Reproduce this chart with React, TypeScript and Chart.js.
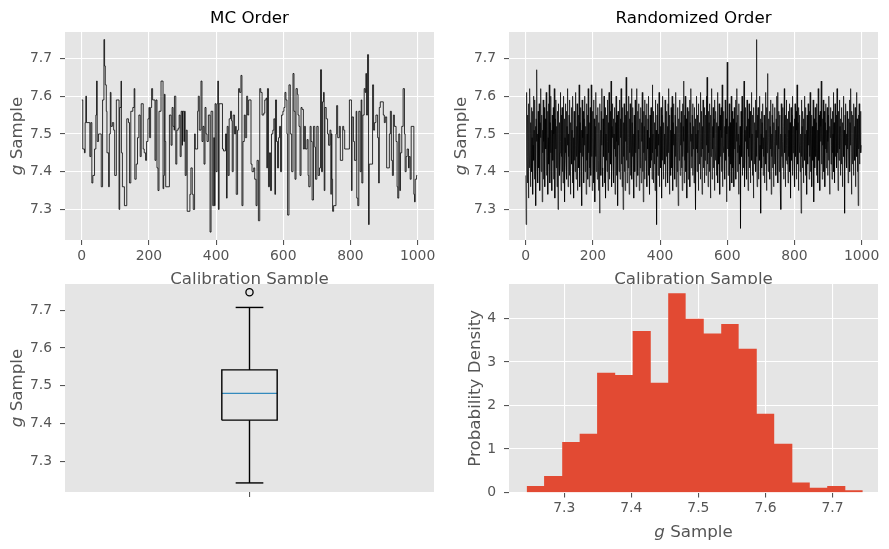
import React, { useEffect, useRef } from "react";
import { Chart, registerables } from "chart.js";

Chart.register(...registerables);

// ---------------- data ----------------
// MC chain: sample index where the chain moves to a new value, and that value
const mcChangeIndex = [
  0, 3, 8, 10, 12, 14, 24, 27, 30, 33,
  38, 42, 44, 46, 50, 58, 62, 66, 68, 70,
  73, 75, 80, 82, 85, 87, 91, 95, 98, 103,
  111, 113, 117, 118, 121, 127, 134, 139, 142, 146,
  152, 156, 158, 162, 166, 170, 174, 177, 183, 186,
  190, 193, 197, 200, 202, 205, 208, 211, 218, 221,
  224, 227, 230, 236, 242, 244, 246, 248, 250, 261,
  266, 269, 272, 275, 276, 280, 283, 287, 290, 293,
  296, 299, 300, 304, 306, 308, 311, 314, 322, 325,
  329, 332, 336, 338, 345, 347, 350, 355, 358, 361,
  364, 367, 370, 373, 377, 382, 385, 390, 393, 395,
  397, 400, 403, 405, 407, 409, 419, 422, 428, 431,
  433, 436, 439, 443, 446, 448, 451, 455, 458, 460,
  464, 467, 470, 474, 477, 480, 484, 487, 491, 494,
  497, 504, 507, 512, 515, 519, 522, 526, 530, 533,
  537, 542, 545, 549, 551, 553, 556, 559, 562, 565,
  569, 572, 575, 577, 580, 583, 586, 589, 592, 595,
  599, 602, 605, 608, 611, 613, 617, 621, 625, 629,
  632, 635, 638, 642, 644, 647, 650, 653, 656, 660,
  663, 666, 671, 674, 676, 680, 683, 686, 690, 694,
  696, 700, 704, 708, 711, 714, 717, 720, 722, 724,
  728, 732, 735, 739, 742, 743, 745, 747, 750, 757,
  759, 762, 767, 770, 777, 780, 783, 797, 803, 805,
  809, 812, 817, 819, 822, 825, 829, 832, 834, 837,
  841, 844, 846, 848, 851, 854, 856, 866, 869, 872,
  876, 881, 884, 886, 889, 898, 901, 904, 908, 916,
  919, 922, 925, 928, 931, 936, 939, 941, 944, 947,
  949, 953, 957, 961, 963, 966, 969, 973, 975, 978,
  981, 989, 991, 993, 997, 999,
];
const mcChangeValue = [
  7.59, 7.46, 7.45, 7.53, 7.60, 7.53, 7.44, 7.53, 7.37, 7.39,
  7.46, 7.55, 7.64, 7.48, 7.50, 7.36, 7.59, 7.75, 7.68, 7.63,
  7.56, 7.45, 7.36, 7.50, 7.61, 7.52, 7.53, 7.51, 7.39, 7.59,
  7.30, 7.57, 7.64, 7.45, 7.36, 7.31, 7.54, 7.53, 7.37, 7.56,
  7.57, 7.62, 7.38, 7.42, 7.49, 7.55, 7.44, 7.58, 7.46, 7.45,
  7.43, 7.48, 7.54, 7.57, 7.49, 7.57, 7.62, 7.59, 7.43, 7.59,
  7.41, 7.35, 7.56, 7.64, 7.355, 7.39, 7.605, 7.48, 7.36, 7.55,
  7.47, 7.57, 7.52, 7.51, 7.60, 7.42, 7.51, 7.515, 7.55, 7.44,
  7.56, 7.47, 7.56, 7.48, 7.56, 7.39, 7.51, 7.295, 7.34, 7.41,
  7.34, 7.30, 7.50, 7.46, 7.56, 7.60, 7.51, 7.64, 7.48, 7.52,
  7.42, 7.57, 7.50, 7.48, 7.55, 7.24, 7.56, 7.31, 7.49, 7.31,
  7.58, 7.40, 7.58, 7.64, 7.30, 7.58, 7.46, 7.455, 7.50, 7.33,
  7.52, 7.39, 7.54, 7.56, 7.535, 7.40, 7.55, 7.50, 7.52, 7.34,
  7.51, 7.62, 7.61, 7.655, 7.31, 7.48, 7.55, 7.49, 7.60, 7.55,
  7.59, 7.42, 7.40, 7.41, 7.38, 7.31, 7.43, 7.27, 7.62, 7.61,
  7.55, 7.555, 7.59, 7.595, 7.41, 7.62, 7.36, 7.45, 7.35, 7.50,
  7.51, 7.54, 7.34, 7.59, 7.48, 7.41, 7.49, 7.52, 7.40, 7.55,
  7.56, 7.57, 7.61, 7.59, 7.50, 7.285, 7.63, 7.50, 7.40, 7.66,
  7.56, 7.38, 7.62, 7.605, 7.55, 7.52, 7.39, 7.57, 7.565, 7.46,
  7.52, 7.46, 7.485, 7.39, 7.36, 7.52, 7.48, 7.325, 7.52, 7.465,
  7.38, 7.52, 7.39, 7.41, 7.67, 7.40, 7.585, 7.61, 7.35, 7.57,
  7.54, 7.50, 7.47, 7.51, 7.34, 7.50, 7.38, 7.295, 7.31, 7.50,
  7.575, 7.49, 7.52, 7.43, 7.52, 7.51, 7.46, 7.59, 7.35, 7.545,
  7.48, 7.43, 7.56, 7.33, 7.31, 7.56, 7.40, 7.59, 7.37, 7.55,
  7.62, 7.61, 7.66, 7.55, 7.71, 7.26, 7.42, 7.63, 7.51, 7.53,
  7.55, 7.49, 7.37, 7.57, 7.585, 7.55, 7.53, 7.545, 7.41, 7.50,
  7.56, 7.43, 7.39, 7.55, 7.52, 7.48, 7.36, 7.33, 7.50, 7.35,
  7.45, 7.52, 7.62, 7.50, 7.40, 7.44, 7.46, 7.41, 7.44, 7.38,
  7.52, 7.34, 7.32, 7.38, 7.39, 7.39,
];

// Same samples shown in randomized order (one value per sample index)
const randomizedValues = [
  7.39, 7.26, 7.52, 7.61, 7.44, 7.37, 7.55, 7.48, 7.33, 7.58, 7.46, 7.41, 7.62, 7.50, 7.36, 7.53, 7.45, 7.57, 7.40, 7.49,
  7.56, 7.34, 7.47, 7.60, 7.43, 7.51, 7.38, 7.59, 7.45, 7.52, 7.31, 7.54, 7.48, 7.67, 7.42, 7.50, 7.37, 7.56, 7.46, 7.41,
  7.58, 7.44, 7.35, 7.53, 7.49, 7.62, 7.40, 7.47, 7.55, 7.32, 7.51, 7.45, 7.59, 7.38, 7.48, 7.57, 7.43, 7.36, 7.54, 7.50,
  7.46, 7.61, 7.39, 7.52, 7.44, 7.56, 7.34, 7.49, 7.58, 7.42, 7.63, 7.47, 7.37, 7.53, 7.45, 7.60, 7.40, 7.51, 7.35, 7.55,
  7.48, 7.43, 7.57, 7.38, 7.50, 7.62, 7.44, 7.33, 7.54, 7.46, 7.59, 7.41, 7.52, 7.36, 7.49, 7.56, 7.30, 7.47, 7.58, 7.42,
  7.53, 7.39, 7.45, 7.61, 7.48, 7.35, 7.55, 7.44, 7.57, 7.40, 7.51, 7.37, 7.60, 7.46, 7.43, 7.54, 7.32, 7.49, 7.58, 7.45,
  7.41, 7.56, 7.38, 7.52, 7.47, 7.62, 7.36, 7.50, 7.44, 7.55, 7.39, 7.59, 7.48, 7.34, 7.53, 7.46, 7.57, 7.42, 7.51, 7.37,
  7.60, 7.45, 7.49, 7.33, 7.56, 7.43, 7.54, 7.40, 7.61, 7.47, 7.38, 7.52, 7.44, 7.58, 7.35, 7.50, 7.46, 7.55, 7.41, 7.63,
  7.48, 7.36, 7.53, 7.45, 7.57, 7.39, 7.51, 7.31, 7.59, 7.44, 7.49, 7.56, 7.42, 7.37, 7.54, 7.47, 7.60, 7.40, 7.52, 7.46,
  7.34, 7.58, 7.43, 7.50, 7.55, 7.38, 7.62, 7.45, 7.48, 7.36, 7.53, 7.41, 7.57, 7.47, 7.39, 7.63, 7.44, 7.51, 7.35, 7.56,
  7.49, 7.42, 7.59, 7.37, 7.54, 7.46, 7.32, 7.52, 7.44, 7.61, 7.40, 7.48, 7.55, 7.38, 7.50, 7.57, 7.43, 7.35, 7.53, 7.46,
  7.29, 7.58, 7.45, 7.51, 7.39, 7.56, 7.47, 7.62, 7.41, 7.36, 7.54, 7.49, 7.44, 7.60, 7.37, 7.52, 7.46, 7.57, 7.33, 7.50,
  7.43, 7.55, 7.40, 7.59, 7.48, 7.35, 7.53, 7.45, 7.61, 7.38, 7.51, 7.44, 7.56, 7.42, 7.64, 7.47, 7.36, 7.52, 7.49, 7.58,
  7.41, 7.54, 7.37, 7.50, 7.46, 7.57, 7.34, 7.53, 7.44, 7.60, 7.39, 7.48, 7.55, 7.43, 7.31, 7.56, 7.47, 7.52, 7.40, 7.59,
  7.45, 7.38, 7.54, 7.49, 7.62, 7.42, 7.51, 7.36, 7.57, 7.46, 7.30, 7.53, 7.44, 7.58, 7.40, 7.50, 7.35, 7.55, 7.48, 7.65,
  7.43, 7.52, 7.37, 7.56, 7.47, 7.41, 7.60, 7.49, 7.34, 7.54, 7.45, 7.58, 7.39, 7.51, 7.46, 7.62, 7.38, 7.53, 7.44, 7.57,
  7.42, 7.50, 7.33, 7.55, 7.48, 7.40, 7.59, 7.45, 7.52, 7.36, 7.62, 7.47, 7.43, 7.56, 7.39, 7.51, 7.46, 7.58, 7.35, 7.54,
  7.49, 7.41, 7.57, 7.44, 7.37, 7.53, 7.48, 7.61, 7.40, 7.50, 7.32, 7.56, 7.45, 7.52, 7.38, 7.59, 7.43, 7.55, 7.47, 7.42,
  7.58, 7.36, 7.51, 7.46, 7.54, 7.39, 7.60, 7.44, 7.49, 7.34, 7.55, 7.47, 7.41, 7.57, 7.43, 7.52, 7.38, 7.63, 7.45, 7.50,
  7.37, 7.56, 7.48, 7.42, 7.53, 7.35, 7.59, 7.46, 7.51, 7.40, 7.26, 7.55, 7.44, 7.58, 7.39, 7.50, 7.47, 7.61, 7.36, 7.54,
  7.45, 7.52, 7.41, 7.57, 7.48, 7.33, 7.55, 7.43, 7.60, 7.47, 7.38, 7.53, 7.46, 7.50, 7.42, 7.59, 7.36, 7.54, 7.49, 7.44,
  7.56, 7.40, 7.52, 7.37, 7.58, 7.45, 7.62, 7.48, 7.34, 7.55, 7.43, 7.51, 7.39, 7.57, 7.46, 7.41, 7.60, 7.49, 7.35, 7.53,
  7.47, 7.58, 7.42, 7.50, 7.38, 7.55, 7.44, 7.61, 7.36, 7.52, 7.48, 7.40, 7.57, 7.45, 7.31, 7.54, 7.49, 7.43, 7.59, 7.46,
  7.39, 7.53, 7.47, 7.56, 7.41, 7.50, 7.35, 7.58, 7.44, 7.52, 7.64, 7.48, 7.37, 7.55, 7.43, 7.60, 7.46, 7.40, 7.54, 7.49,
  7.33, 7.57, 7.45, 7.51, 7.38, 7.56, 7.47, 7.42, 7.59, 7.36, 7.53, 7.48, 7.62, 7.41, 7.50, 7.44, 7.55, 7.39, 7.58, 7.46,
  7.52, 7.37, 7.48, 7.57, 7.43, 7.54, 7.30, 7.50, 7.46, 7.60, 7.40, 7.55, 7.45, 7.51, 7.35, 7.58, 7.47, 7.42, 7.53, 7.49,
  7.38, 7.61, 7.44, 7.56, 7.48, 7.34, 7.52, 7.46, 7.59, 7.41, 7.54, 7.50, 7.37, 7.57, 7.43, 7.49, 7.55, 7.39, 7.60, 7.47,
  7.65, 7.42, 7.51, 7.36, 7.56, 7.45, 7.53, 7.40, 7.58, 7.48, 7.33, 7.55, 7.44, 7.50, 7.62, 7.38, 7.52, 7.46, 7.57, 7.41,
  7.49, 7.54, 7.35, 7.59, 7.47, 7.43, 7.56, 7.50, 7.39, 7.53, 7.45, 7.61, 7.37, 7.52, 7.48, 7.42, 7.58, 7.46, 7.34, 7.55,
  7.44, 7.51, 7.57, 7.40, 7.49, 7.63, 7.36, 7.53, 7.47, 7.45, 7.56, 7.41, 7.52, 7.38, 7.59, 7.48, 7.43, 7.54, 7.32, 7.50,
  7.69, 7.46, 7.55, 7.39, 7.52, 7.44, 7.58, 7.47, 7.35, 7.53, 7.49, 7.42, 7.60, 7.45, 7.37, 7.56, 7.50, 7.41, 7.54, 7.48,
  7.36, 7.57, 7.46, 7.51, 7.43, 7.59, 7.38, 7.53, 7.48, 7.62, 7.40, 7.55, 7.45, 7.50, 7.34, 7.58, 7.47, 7.42, 7.52, 7.46,
  7.25, 7.56, 7.49, 7.44, 7.60, 7.39, 7.53, 7.47, 7.41, 7.55, 7.64, 7.45, 7.36, 7.51, 7.48, 7.57, 7.43, 7.52, 7.38, 7.59,
  7.46, 7.50, 7.35, 7.54, 7.44, 7.58, 7.41, 7.49, 7.56, 7.37, 7.52, 7.47, 7.61, 7.43, 7.50, 7.39, 7.55, 7.45, 7.33, 7.57,
  7.48, 7.42, 7.53, 7.46, 7.59, 7.40, 7.51, 7.75, 7.44, 7.36, 7.55, 7.49, 7.57, 7.38, 7.52, 7.45, 7.60, 7.43, 7.47, 7.54,
  7.29, 7.50, 7.56, 7.41, 7.53, 7.46, 7.58, 7.39, 7.49, 7.44, 7.55, 7.37, 7.52, 7.48, 7.61, 7.42, 7.51, 7.35, 7.57, 7.45,
  7.66, 7.47, 7.40, 7.54, 7.49, 7.43, 7.56, 7.38, 7.52, 7.46, 7.59, 7.34, 7.50, 7.44, 7.55, 7.41, 7.58, 7.47, 7.36, 7.53,
  7.48, 7.42, 7.57, 7.45, 7.51, 7.39, 7.54, 7.47, 7.60, 7.43, 7.61, 7.37, 7.52, 7.46, 7.56, 7.40, 7.49, 7.55, 7.35, 7.50,
  7.30, 7.58, 7.44, 7.53, 7.48, 7.41, 7.57, 7.46, 7.38, 7.52, 7.62, 7.45, 7.50, 7.36, 7.55, 7.43, 7.59, 7.47, 7.42, 7.54,
  7.49, 7.37, 7.56, 7.44, 7.51, 7.58, 7.40, 7.53, 7.46, 7.33, 7.57, 7.48, 7.43, 7.55, 7.39, 7.60, 7.45, 7.52, 7.47, 7.41,
  7.54, 7.36, 7.58, 7.49, 7.44, 7.56, 7.38, 7.51, 7.63, 7.46, 7.42, 7.53, 7.35, 7.57, 7.48, 7.45, 7.55, 7.40, 7.50, 7.47,
  7.29, 7.59, 7.44, 7.52, 7.41, 7.56, 7.48, 7.37, 7.54, 7.46, 7.60, 7.43, 7.50, 7.39, 7.57, 7.45, 7.51, 7.34, 7.55, 7.49,
  7.42, 7.58, 7.47, 7.53, 7.38, 7.56, 7.44, 7.61, 7.40, 7.50, 7.46, 7.55, 7.36, 7.52, 7.48, 7.43, 7.59, 7.45, 7.32, 7.54,
  7.50, 7.41, 7.57, 7.47, 7.44, 7.53, 7.39, 7.58, 7.46, 7.51, 7.37, 7.62, 7.49, 7.43, 7.55, 7.45, 7.35, 7.56, 7.48, 7.52,
  7.64, 7.42, 7.50, 7.38, 7.54, 7.47, 7.59, 7.44, 7.40, 7.56, 7.49, 7.36, 7.53, 7.46, 7.58, 7.41, 7.51, 7.45, 7.57, 7.39,
  7.48, 7.55, 7.43, 7.60, 7.46, 7.34, 7.52, 7.49, 7.57, 7.42, 7.54, 7.47, 7.38, 7.56, 7.45, 7.50, 7.61, 7.40, 7.53, 7.46,
  7.37, 7.58, 7.44, 7.51, 7.48, 7.55, 7.41, 7.62, 7.45, 7.50, 7.35, 7.56, 7.47, 7.43, 7.59, 7.46, 7.52, 7.39, 7.54, 7.49,
  7.42, 7.57, 7.45, 7.36, 7.53, 7.48, 7.60, 7.44, 7.51, 7.38, 7.29, 7.55, 7.47, 7.58, 7.43, 7.50, 7.41, 7.56, 7.46, 7.52,
  7.37, 7.54, 7.49, 7.44, 7.59, 7.40, 7.53, 7.47, 7.62, 7.45, 7.34, 7.56, 7.48, 7.42, 7.55, 7.50, 7.39, 7.58, 7.46, 7.52,
  7.43, 7.57, 7.36, 7.51, 7.47, 7.61, 7.44, 7.54, 7.40, 7.49, 7.31, 7.55, 7.46, 7.58, 7.42, 7.52, 7.48, 7.56, 7.45, 7.47,
];

// Box plot summary of the samples
const boxWhiskerLow = 7.243;
const boxQ1 = 7.409;
const boxMedian = 7.48;
const boxQ3 = 7.542;
const boxWhiskerHigh = 7.707;
const boxOutliers = [7.747];

// Histogram (density) of the samples
const histBinEdges = [
  7.244, 7.270, 7.297, 7.323, 7.349, 7.376, 7.402, 7.429, 7.455, 7.481,
  7.508, 7.534, 7.560, 7.587, 7.613, 7.640, 7.666, 7.692, 7.719, 7.745,
];
const histDensity = [
  0.15, 0.38, 1.16, 1.35, 2.75, 2.70, 3.71, 2.52, 4.58, 3.99,
  3.65, 3.87, 3.30, 1.81, 1.12, 0.23, 0.11, 0.15, 0.05,
];

// Tick labels
const sampleIndexTicks = [0, 200, 400, 600, 800, 1000];
const gSampleTicks = [7.3, 7.4, 7.5, 7.6, 7.7];
const densityTicks = [0, 1, 2, 3, 4];
const boxCategoryTicks = [1];

// Text
const titleMC = "MC Order";
const titleRandom = "Randomized Order";
const labelCalibration = "Calibration Sample";
const labelDensity = "Probability Density";

// ---------------- styles ----------------
const FONT = "'DejaVu Sans', 'Liberation Sans', sans-serif";
const TEXT_GRAY = "#555555";
const PANEL_BG = "#E5E5E5";
const HIST_RED = "#E24A33";
const MEDIAN_BLUE = "#348ABD";
const TICK_SIZE = 13.9;
const LABEL_SIZE = 16.7;
const BOX_POSITION = 1;
const BOX_WIDTH = 0.15;
const CAP_WIDTH = 0.075;

type Part = { text: string; italic?: boolean };
type Decor = { title?: string; xLabel?: Part[]; yLabel?: Part[]; yGap: number };

const gSampleLabel: Part[] = [{ text: "g", italic: true }, { text: " Sample" }];

function drawParts(ctx: CanvasRenderingContext2D, parts: Part[], x: number, y: number, rotate: boolean, color: string) {
  ctx.save();
  ctx.translate(x, y);
  if (rotate) ctx.rotate(-Math.PI / 2);
  ctx.fillStyle = color;
  ctx.textBaseline = "alphabetic";
  ctx.textAlign = "left";
  const fonts = parts.map((p) => `${p.italic ? "italic " : ""}${LABEL_SIZE}px ${FONT}`);
  const widths = parts.map((p, i) => {
    ctx.font = fonts[i];
    return ctx.measureText(p.text).width;
  });
  const total = widths.reduce((a, b) => a + b, 0);
  let cx = -total / 2;
  parts.forEach((p, i) => {
    ctx.font = fonts[i];
    ctx.fillText(p.text, cx, 0);
    cx += widths[i];
  });
  ctx.restore();
}

function decorPlugin(d: Decor) {
  return {
    id: "panelDecor",
    beforeDraw(chart: any) {
      const a = chart.chartArea;
      const ctx = chart.ctx;
      ctx.save();
      ctx.fillStyle = PANEL_BG;
      ctx.fillRect(a.left, a.top, a.right - a.left, a.bottom - a.top);
      ctx.restore();
    },
    afterDraw(chart: any) {
      const a = chart.chartArea;
      const ctx = chart.ctx;
      const cx = (a.left + a.right) / 2;
      const cy = (a.top + a.bottom) / 2;
      if (d.title) drawParts(ctx, [{ text: d.title }], cx, a.top - 9.3, false, "#000000");
      if (d.xLabel) drawParts(ctx, d.xLabel, cx, a.bottom + 44, false, TEXT_GRAY);
      if (d.yLabel) drawParts(ctx, d.yLabel, a.left - d.yGap, cy, true, TEXT_GRAY);
    },
  };
}

function axis(o: {
  dir: "x" | "y";
  min: number;
  max: number;
  ticks: number[];
  fmt: (v: number) => string;
  size: number;
  gridOnArea: boolean;
}) {
  return {
    type: "linear",
    position: o.dir === "x" ? "bottom" : "left",
    min: o.min,
    max: o.max,
    afterBuildTicks: (s: any) => {
      s.ticks = o.ticks.map((v) => ({ value: v }));
    },
    afterFit: (s: any) => {
      if (o.dir === "x") s.height = o.size;
      else s.width = o.size;
    },
    grid: {
      display: true,
      drawOnChartArea: o.gridOnArea,
      color: "#ffffff",
      lineWidth: 1.1,
      drawTicks: true,
      tickLength: 5,
      tickColor: TEXT_GRAY,
      tickWidth: 1.1,
    },
    border: { display: false },
    ticks: {
      color: TEXT_GRAY,
      font: { family: FONT, size: TICK_SIZE },
      padding: o.dir === "x" ? 3 : 8,
      autoSkip: false,
      maxRotation: 0,
      minRotation: 0,
      callback: (v: any) => o.fmt(Number(v)),
    },
  };
}

const fmtInt = (v: number) => String(v);
const fmt1 = (v: number) => v.toFixed(1);
const fmtNone = (_v: number) => "";

function baseOptions(padding: any, scales: any) {
  return {
    animation: false,
    responsive: false,
    devicePixelRatio: 1,
    events: [],
    layout: { padding },
    plugins: { legend: { display: false }, tooltip: { enabled: false }, title: { display: false } },
    scales,
  };
}

const traceYMin = 7.219;
const traceYMax = 7.77;
const traceXMin = -49.95;
const traceXMax = 1048.95;

function mcConfig(): any {
  const pts = mcChangeIndex.map((x, i) => ({ x, y: mcChangeValue[i] }));
  return {
    type: "line",
    data: {
      datasets: [
        { data: pts, borderColor: "#000000", borderWidth: 0.8, pointRadius: 0, stepped: true, fill: false, tension: 0 },
      ],
    },
    options: baseOptions({ top: 32, right: 10, left: 0, bottom: 0 }, {
      x: axis({ dir: "x", min: traceXMin, max: traceXMax, ticks: sampleIndexTicks, fmt: fmtInt, size: 60, gridOnArea: true }),
      y: axis({ dir: "y", min: traceYMin, max: traceYMax, ticks: gSampleTicks, fmt: fmt1, size: 65, gridOnArea: true }),
    }),
    plugins: [decorPlugin({ title: titleMC, xLabel: [{ text: labelCalibration }], yLabel: gSampleLabel, yGap: 43 })],
  };
}

function randomConfig(): any {
  const pts = randomizedValues.map((y, x) => ({ x, y }));
  return {
    type: "line",
    data: {
      datasets: [{ data: pts, borderColor: "#000000", borderWidth: 0.65, pointRadius: 0, fill: false, tension: 0 }],
    },
    options: baseOptions({ top: 32, right: 11, left: 0, bottom: 0 }, {
      x: axis({ dir: "x", min: traceXMin, max: traceXMax, ticks: sampleIndexTicks, fmt: fmtInt, size: 60, gridOnArea: true }),
      y: axis({ dir: "y", min: traceYMin, max: traceYMax, ticks: gSampleTicks, fmt: fmt1, size: 65, gridOnArea: true }),
    }),
    plugins: [decorPlugin({ title: titleRandom, xLabel: [{ text: labelCalibration }], yLabel: gSampleLabel, yGap: 43 })],
  };
}

function boxConfig(): any {
  const l = BOX_POSITION - BOX_WIDTH / 2;
  const r = BOX_POSITION + BOX_WIDTH / 2;
  const cl = BOX_POSITION - CAP_WIDTH / 2;
  const cr = BOX_POSITION + CAP_WIDTH / 2;
  const line = (data: any[], color = "#000000", w = 1.4) => ({
    data,
    borderColor: color,
    borderWidth: w,
    pointRadius: 0,
    fill: false,
    tension: 0,
    borderJoinStyle: "miter",
  });
  return {
    type: "line",
    data: {
      datasets: [
        line([{ x: BOX_POSITION, y: boxQ3 }, { x: BOX_POSITION, y: boxWhiskerHigh }]),
        line([{ x: BOX_POSITION, y: boxQ1 }, { x: BOX_POSITION, y: boxWhiskerLow }]),
        line([{ x: cl, y: boxWhiskerHigh }, { x: cr, y: boxWhiskerHigh }]),
        line([{ x: cl, y: boxWhiskerLow }, { x: cr, y: boxWhiskerLow }]),
        line([
          { x: l, y: boxQ1 },
          { x: r, y: boxQ1 },
          { x: r, y: boxQ3 },
          { x: l, y: boxQ3 },
          { x: l, y: boxQ1 },
        ]),
        line([{ x: l, y: boxMedian }, { x: r, y: boxMedian }], MEDIAN_BLUE, 1.2),
        {
          data: boxOutliers.map((y) => ({ x: BOX_POSITION, y })),
          showLine: false,
          pointRadius: 3.6,
          pointStyle: "circle",
          pointBorderColor: "#000000",
          pointBackgroundColor: "rgba(0,0,0,0)",
          pointBorderWidth: 1.3,
          borderColor: "#000000",
          backgroundColor: "rgba(0,0,0,0)",
        },
      ],
    },
    options: baseOptions({ top: 22, right: 10, left: 0, bottom: 0 }, {
      x: axis({ dir: "x", min: 0.5, max: 1.5, ticks: boxCategoryTicks, fmt: fmtNone, size: 57, gridOnArea: false }),
      y: axis({ dir: "y", min: 7.219, max: 7.769, ticks: gSampleTicks, fmt: fmt1, size: 65, gridOnArea: false }),
    }),
    plugins: [decorPlugin({ yLabel: gSampleLabel, yGap: 43 })],
  };
}

function histConfig(): any {
  const pts = histDensity.map((h, i) => ({ x: histBinEdges[i], y: h }));
  pts.push({ x: histBinEdges[histBinEdges.length - 1], y: histDensity[histDensity.length - 1] });
  return {
    type: "line",
    data: {
      datasets: [
        {
          data: pts,
          stepped: true,
          fill: "origin",
          backgroundColor: HIST_RED,
          borderColor: "rgba(0,0,0,0)",
          borderWidth: 0,
          pointRadius: 0,
          tension: 0,
        },
      ],
    },
    options: baseOptions({ top: 22, right: 11, left: 0, bottom: 0 }, {
      x: axis({ dir: "x", min: 7.2177, max: 7.7677, ticks: gSampleTicks, fmt: fmt1, size: 56.5, gridOnArea: true }),
      y: axis({ dir: "y", min: 0, max: 4.79, ticks: densityTicks, fmt: fmtInt, size: 65, gridOnArea: true }),
    }),
    plugins: [
      decorPlugin({ xLabel: gSampleLabel, yLabel: [{ text: labelDensity }], yGap: 29 }),
    ],
  };
}

function Panel(props: { left: number; top: number; width: number; height: number; make: () => any }) {
  const ref = useRef<HTMLCanvasElement | null>(null);
  useEffect(() => {
    const chart = new Chart(ref.current as HTMLCanvasElement, props.make());
    return () => chart.destroy();
  }, []);
  return (
    <canvas
      ref={ref}
      width={props.width}
      height={props.height}
      style={{ position: "absolute", left: props.left, top: props.top, width: props.width, height: props.height }}
    />
  );
}

export default function App() {
  return (
    <div style={{ position: "absolute", left: 0, top: 0, width: 889, height: 549, background: "#ffffff", overflow: "hidden" }}>
      <Panel left={0} top={0} width={444} height={300} make={mcConfig} />
      <Panel left={444} top={0} width={445} height={300} make={randomConfig} />
      <Panel left={0} top={262} width={444} height={287} make={boxConfig} />
      <Panel left={444} top={262} width={445} height={287} make={histConfig} />
    </div>
  );
}
